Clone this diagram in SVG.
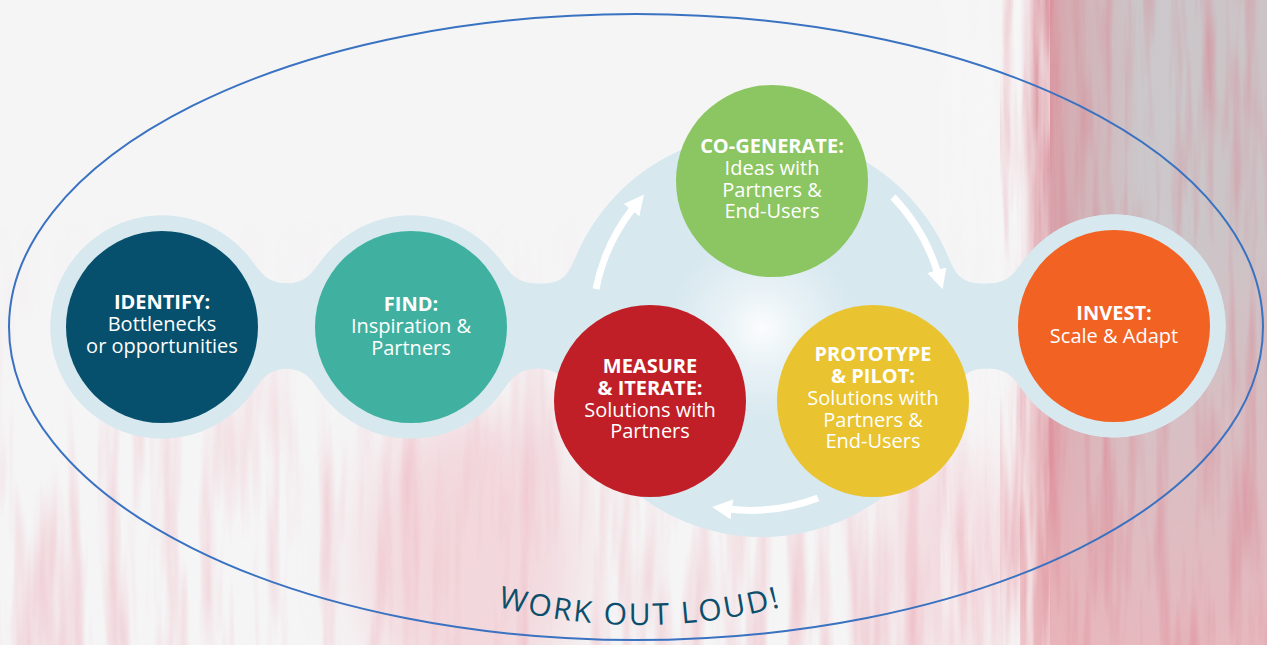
<svg xmlns="http://www.w3.org/2000/svg" width="1267" height="645" viewBox="0 0 1267 645">
<defs>
<style>
.nt{font-family:"Open Sans","Noto Sans","Liberation Sans",sans-serif;font-size:20px;fill:#ffffff;text-anchor:middle}
.b{font-weight:700}
.arrow{fill:none;stroke:#ffffff;stroke-width:7;marker-end:url(#ah)}
.wol{font-family:"Open Sans","Noto Sans","Liberation Sans",sans-serif;font-size:30px;fill:#0b4f6c;letter-spacing:2.3px}
</style>
<marker id="ah" viewBox="0 0 20 20" markerWidth="20" markerHeight="20" refX="4" refY="10" orient="auto" markerUnits="userSpaceOnUse"><path d="M0,0 L20,10 L0,20 z" fill="#ffffff"/></marker>
<filter id="goo" filterUnits="userSpaceOnUse" x="0" y="80" width="1267" height="500" color-interpolation-filters="sRGB">
<feGaussianBlur in="SourceGraphic" stdDeviation="12"/>
<feColorMatrix type="matrix" values="0 0 0 0 0.843  0 0 0 0 0.910  0 0 0 0 0.937  0 0 0 40 -19"/>
</filter>
<filter id="streak" filterUnits="userSpaceOnUse" x="0" y="0" width="1267" height="645" color-interpolation-filters="sRGB">
<feTurbulence type="fractalNoise" baseFrequency="0.05 0.004" numOctaves="3" seed="5"/>
<feColorMatrix type="matrix" values="0 0 0 0 0.92  0 0 0 0 0.64  0 0 0 0 0.69  2.2 0 0 0 -0.95"/>
</filter>
<filter id="streakR" filterUnits="userSpaceOnUse" x="1000" y="0" width="267" height="645" color-interpolation-filters="sRGB">
<feTurbulence type="fractalNoise" baseFrequency="0.07 0.005" numOctaves="3" seed="11"/>
<feColorMatrix type="matrix" values="0 0 0 0 0.86  0 0 0 0 0.45  0 0 0 0 0.52  2.2 0 0 0 -1.0"/>
</filter>
<filter id="streakW" filterUnits="userSpaceOnUse" x="940" y="0" width="110" height="645" color-interpolation-filters="sRGB">
<feTurbulence type="fractalNoise" baseFrequency="0.09 0.006" numOctaves="3" seed="3"/>
<feColorMatrix type="matrix" values="0 0 0 0 0.97  0 0 0 0 0.97  0 0 0 0 0.97  2.6 0 0 0 -0.9"/>
</filter>
<filter id="soft" x="-50%" y="-50%" width="200%" height="200%"><feGaussianBlur stdDeviation="30"/></filter>
<linearGradient id="lowG" x1="0" y1="0" x2="0" y2="1">
<stop offset="0.33" stop-color="#fff" stop-opacity="0"/>
<stop offset="0.7" stop-color="#fff" stop-opacity="0.7"/>
<stop offset="1" stop-color="#fff" stop-opacity="1"/>
</linearGradient>
<mask id="lowMask" maskUnits="userSpaceOnUse" x="0" y="0" width="1267" height="645">
<rect x="0" y="0" width="1267" height="645" fill="url(#lowG)"/>
</mask>
<linearGradient id="rightG" x1="1020" y1="0" x2="1267" y2="0" gradientUnits="userSpaceOnUse">
<stop offset="0" stop-color="#e2a4ad" stop-opacity="0"/>
<stop offset="0.08" stop-color="#dc9aa4"/>
<stop offset="0.22" stop-color="#d3b1b6"/>
<stop offset="0.5" stop-color="#cbc8cb"/>
<stop offset="1" stop-color="#ccc3c6"/>
</linearGradient>
<linearGradient id="rightV" x1="0" y1="0" x2="0" y2="645" gradientUnits="userSpaceOnUse">
<stop offset="0.35" stop-color="#e8b2b8" stop-opacity="0"/>
<stop offset="1" stop-color="#ebb7bd" stop-opacity="0.85"/>
</linearGradient>
<radialGradient id="glow" cx="762" cy="328" r="95" gradientUnits="userSpaceOnUse">
<stop offset="0" stop-color="#ffffff" stop-opacity="0.9"/>
<stop offset="0.4" stop-color="#ffffff" stop-opacity="0.45"/>
<stop offset="1" stop-color="#ffffff" stop-opacity="0"/>
</radialGradient>
</defs>

<g id="background">
<rect x="0" y="0" width="1267" height="645" fill="#f5f5f6"/>
<ellipse cx="470" cy="560" rx="110" ry="150" fill="#f0bcc4" opacity="0.5" filter="url(#soft)"/>
<ellipse cx="960" cy="560" rx="70" ry="120" fill="#f0bcc4" opacity="0.45" filter="url(#soft)"/>
<g mask="url(#lowMask)" opacity="0.55"><rect x="0" y="0" width="1267" height="645" filter="url(#streak)"/></g>
<rect x="1020" y="0" width="247" height="645" fill="url(#rightG)"/>
<rect x="1020" y="0" width="247" height="645" fill="url(#rightV)"/>
<rect x="1000" y="0" width="267" height="645" filter="url(#streakR)" opacity="0.45"/>
<rect x="940" y="0" width="110" height="645" filter="url(#streakW)" opacity="0.6"/>
</g>

<g id="ellipse-frame">
<ellipse cx="636" cy="327" rx="627" ry="313" fill="none" stroke="#3a72c2" stroke-width="2"/>
</g>

<g id="halo" filter="url(#goo)">
<circle cx="162" cy="327" r="112" fill="#000"/>
<circle cx="411" cy="327" r="112" fill="#000"/>
<circle cx="1114" cy="326" r="112" fill="#000"/>
<circle cx="762" cy="335" r="202" fill="#000"/>
<rect x="162" y="284" width="952" height="84" fill="#000"/>
</g>
<circle cx="762" cy="328" r="95" fill="url(#glow)"/>

<g id="connectors">
<path class="arrow" d="M596 289 A190 190 0 0 1 634 207"/>
<path class="arrow" d="M893 197 A190 190 0 0 1 938 274"/>
<path class="arrow" d="M818 498 A190 190 0 0 1 728 509"/>
</g>

<g id="node-identify">
<circle cx="162" cy="327" r="96" fill="#06506d"/>
<text class="nt b" x="162" y="309">IDENTIFY:</text>
<text class="nt" x="162" y="331">Bottlenecks</text>
<text class="nt" x="162" y="353">or opportunities</text>
</g>

<g id="node-find">
<circle cx="411" cy="327" r="96" fill="#40b1a0"/>
<text class="nt b" x="411" y="311">FIND:</text>
<text class="nt" x="411" y="333">Inspiration &amp;</text>
<text class="nt" x="411" y="355">Partners</text>
</g>

<g id="node-cogenerate">
<circle cx="772" cy="181" r="96" fill="#8bc662"/>
<text class="nt b" x="772" y="153">CO-GENERATE:</text>
<text class="nt" x="772" y="175">Ideas with</text>
<text class="nt" x="772" y="197">Partners &amp;</text>
<text class="nt" x="772" y="218">End-Users</text>
</g>

<g id="node-measure">
<circle cx="650" cy="401" r="96" fill="#c11f27"/>
<text class="nt b" x="650" y="373">MEASURE</text>
<text class="nt b" x="650" y="395">&amp; ITERATE:</text>
<text class="nt" x="650" y="417">Solutions with</text>
<text class="nt" x="650" y="438">Partners</text>
</g>

<g id="node-prototype">
<circle cx="873" cy="401" r="96" fill="#e9c330"/>
<text class="nt b" x="873" y="361">PROTOTYPE</text>
<text class="nt b" x="873" y="383">&amp; PILOT:</text>
<text class="nt" x="873" y="405">Solutions with</text>
<text class="nt" x="873" y="427">Partners &amp;</text>
<text class="nt" x="873" y="448">End-Users</text>
</g>

<g id="node-invest">
<circle cx="1114" cy="326" r="96" fill="#f16223"/>
<text class="nt b" x="1114" y="320">INVEST:</text>
<text class="nt" x="1114" y="343">Scale &amp; Adapt</text>
</g>

<g id="caption">
<path id="wolPath" d="M470 598.6 A560 560 0 0 0 810 598.6" fill="none"/>
<text class="wol"><textPath href="#wolPath" startOffset="50%" text-anchor="middle">WORK OUT LOUD!</textPath></text>
</g>
</svg>
